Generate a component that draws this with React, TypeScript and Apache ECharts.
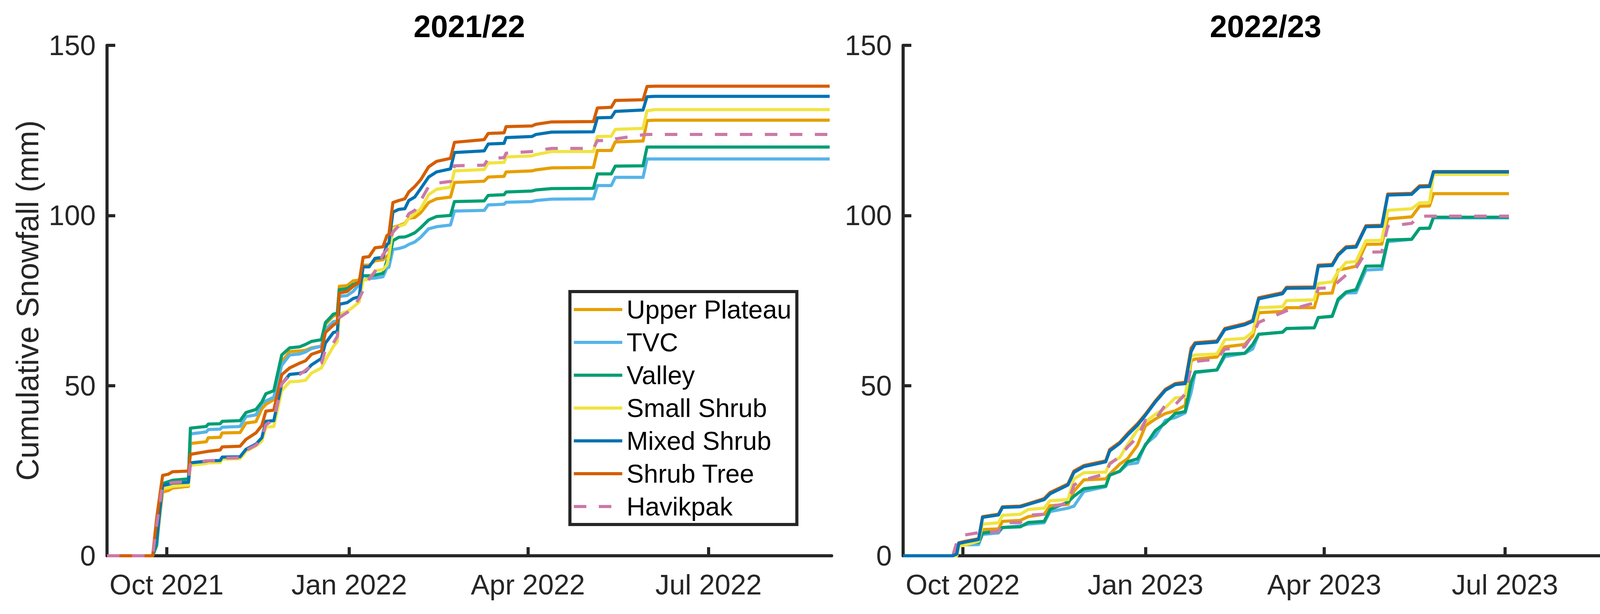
import React, { useEffect, useRef } from 'react';
import * as echarts from 'echarts';

const SITE_NAMES = ['Upper Plateau', 'TVC', 'Valley', 'Small Shrub', 'Mixed Shrub', 'Shrub Tree', 'Havikpak'];
const SITE_COLORS = ['#E69F00', '#56B4E9', '#009E73', '#F0E442', '#0072B2', '#D55E00', '#CC79A7'];

const seasonTitles = ['2021/22', '2022/23'];
const seasonRanges = [
  ['2021-09-01', '2022-09-01'],
  ['2022-09-01', '2023-09-01'],
];
const xTickDates2122 = ['2021-10-01', '2022-01-01', '2022-04-01', '2022-07-01'];
const xTickLabels2122 = ['Oct 2021', 'Jan 2022', 'Apr 2022', 'Jul 2022'];
const xTickDates2223 = ['2022-10-01', '2023-01-01', '2023-04-01', '2023-07-01'];
const xTickLabels2223 = ['Oct 2022', 'Jan 2023', 'Apr 2023', 'Jul 2023'];

// ---------- 2021/22 ----------
const dates2122 = [
  '2021-09-01', '2021-09-24', '2021-09-26', '2021-09-29', '2021-10-02', '2021-10-04', '2021-10-12', '2021-10-13', '2021-10-21', '2021-10-22',
  '2021-10-28', '2021-10-29', '2021-11-07', '2021-11-10', '2021-11-15', '2021-11-18', '2021-11-20', '2021-11-24', '2021-11-28', '2021-12-02',
  '2021-12-07', '2021-12-10', '2021-12-13', '2021-12-18', '2021-12-20', '2021-12-24', '2021-12-26', '2021-12-27', '2021-12-31', '2022-01-03',
  '2022-01-06', '2022-01-08', '2022-01-11', '2022-01-14', '2022-01-18', '2022-01-20', '2022-01-21', '2022-01-23', '2022-01-26', '2022-01-29',
  '2022-01-31', '2022-02-03', '2022-02-06', '2022-02-10', '2022-02-14', '2022-02-21', '2022-02-23', '2022-03-10', '2022-03-12', '2022-03-20',
  '2022-03-21', '2022-04-03', '2022-04-05', '2022-04-13', '2022-05-04', '2022-05-06', '2022-05-13', '2022-05-15', '2022-05-29', '2022-05-31',
  '2022-06-04', '2022-08-31',
];
const upperPlateau2122 = [
  0, 0, 4, 18.7, 19.2, 19.9, 20.4, 33.0, 33.5, 34.7,
  34.8, 36.1, 36.2, 39.0, 39.4, 43.2, 44.5, 45.9, 57.0, 60.0,
  60.2, 60.4, 61.1, 61.6, 68.0, 70.5, 70.8, 79.2, 79.4, 80.8,
  81.0, 85.4, 85.4, 86.7, 87.0, 88.0, 88.5, 96.5, 97.0, 97.7,
  99.2, 99.4, 100.8, 103.8, 104.9, 105.4, 109.7, 110.1, 111.3, 111.5,
  112.8, 113.1, 113.4, 114.0, 114.1, 119.1, 119.1, 121.6, 121.9, 127.9,
  128.0, 128.0,
];
const tvc2122 = [
  0, 0, 4, 20.8, 21.0, 21.3, 21.6, 35.8, 36.4, 37.1,
  37.2, 37.8, 38.0, 40.9, 41.4, 44.7, 45.5, 46.6, 56.0, 59.0,
  59.3, 59.9, 60.9, 61.6, 66.5, 68.8, 69.0, 76.2, 76.5, 77.7,
  79.7, 81.0, 81.5, 81.6, 82.0, 84.6, 84.8, 90.0, 90.3, 90.8,
  91.5, 92.2, 93.6, 96.1, 96.7, 97.2, 101.3, 101.5, 103.1, 103.3,
  103.9, 104.1, 104.4, 104.8, 104.9, 108.8, 108.8, 111.2, 111.2, 116.6,
  116.6, 116.6,
];
const valley2122 = [
  0, 0, 3, 21.2, 21.8, 22.2, 22.6, 37.5, 38.0, 38.7,
  38.8, 39.5, 39.7, 42.1, 43.0, 45.2, 47.6, 48.5, 59.0, 61.1,
  61.4, 62.1, 63.0, 63.5, 68.5, 71.0, 71.3, 78.2, 78.5, 79.7,
  80.3, 82.3, 82.3, 82.5, 83.0, 86.7, 87.0, 92.6, 93.6, 93.7,
  94.1, 94.9, 96.4, 98.7, 99.7, 100.0, 104.1, 104.3, 105.9, 106.1,
  106.9, 107.2, 107.5, 107.9, 108.0, 112.2, 112.2, 114.5, 114.6, 120.1,
  120.1, 120.1,
];
const smallShrub2122 = [
  0, 0, 5, 19.7, 20.0, 20.4, 20.8, 26.6, 27.1, 27.3,
  27.4, 28.4, 28.5, 30.7, 32.3, 33.7, 37.8, 38.0, 48.5, 51.1,
  51.3, 51.6, 53.7, 55.2, 57.5, 61.5, 63.0, 71.0, 71.8, 73.1,
  74.6, 81.0, 81.3, 83.8, 84.1, 85.5, 88.0, 96.1, 96.8, 97.4,
  99.2, 100.5, 102.0, 106.1, 107.7, 108.3, 113.1, 113.5, 115.4, 115.6,
  117.2, 117.5, 117.9, 118.8, 118.8, 123.2, 123.3, 125.3, 125.6, 130.8,
  131.1, 131.1,
];
const mixedShrub2122 = [
  0, 0, 5, 20.6, 21.0, 21.4, 21.6, 27.3, 27.8, 27.9,
  28.0, 29.0, 29.1, 31.3, 32.8, 34.7, 39.5, 39.7, 50.5, 53.3,
  53.6, 54.2, 56.1, 58.0, 62.5, 65.6, 65.9, 73.9, 74.4, 75.6,
  76.1, 84.9, 84.9, 87.4, 87.7, 91.5, 91.9, 101.0, 101.8, 102.0,
  104.4, 105.4, 107.9, 111.3, 112.8, 113.7, 118.5, 119.0, 121.0, 121.2,
  122.9, 123.2, 123.8, 124.5, 124.6, 128.7, 128.8, 130.6, 131.0, 134.9,
  135.0, 135.0,
];
const shrubTree2122 = [
  0, 0, 11, 23.6, 24.0, 24.7, 24.9, 29.8, 30.6, 30.7,
  31.1, 32.0, 32.2, 34.2, 36.1, 38.3, 42.5, 42.8, 53.2, 55.2,
  56.6, 57.3, 59.2, 60.2, 65.6, 67.8, 68.5, 77.2, 77.7, 79.2,
  80.3, 87.7, 87.9, 90.5, 90.8, 94.1, 94.5, 103.8, 104.4, 104.9,
  106.9, 108.5, 110.5, 114.3, 115.9, 116.8, 121.5, 122.3, 124.1, 124.3,
  126.1, 126.3, 126.8, 127.5, 127.6, 131.6, 131.8, 133.8, 134.0, 137.9,
  138.0, 138.0,
];
const havikpak2122 = [
  0, 0, 9, 21.1, 21.3, 21.5, 21.8, 27.3, 27.9, 27.9,
  28.0, 28.7, 28.8, 31.0, 32.5, 34.5, 38.5, 40.0, 50.5, 53.0,
  53.3, 54.5, 56.0, 56.6, 60.5, 62.5, 64.5, 70.0, 71.5, 73.1,
  75.6, 78.0, 81.3, 83.5, 88.5, 90.0, 92.0, 95.1, 97.0, 98.2,
  100.5, 101.5, 104.4, 108.5, 109.5, 110.0, 114.6, 114.8, 116.7, 117.0,
  118.3, 118.8, 119.1, 119.7, 119.7, 122.0, 122.0, 122.5, 123.7, 123.8,
  123.8, 123.8,
];

// ---------- 2022/23 ----------
const dates2223 = [
  '2022-09-01', '2022-09-26', '2022-09-28', '2022-09-29', '2022-10-02', '2022-10-09', '2022-10-11', '2022-10-19', '2022-10-21', '2022-10-30',
  '2022-11-03', '2022-11-11', '2022-11-14', '2022-11-23', '2022-11-26', '2022-12-01', '2022-12-12', '2022-12-14', '2022-12-19', '2022-12-23',
  '2022-12-28', '2023-01-01', '2023-01-06', '2023-01-11', '2023-01-16', '2023-01-21', '2023-01-24', '2023-01-26', '2023-02-06', '2023-02-10',
  '2023-02-20', '2023-02-24', '2023-02-27', '2023-03-11', '2023-03-13', '2023-03-27', '2023-03-29', '2023-04-05', '2023-04-08', '2023-04-12',
  '2023-04-17', '2023-04-22', '2023-04-30', '2023-05-03', '2023-05-15', '2023-05-19', '2023-05-24', '2023-05-26', '2023-07-03',
];
const upperPlateau2223 = [
  0, 0, 0, 3.2, 3.3, 4.3, 7.7, 7.9, 10.1, 10.4,
  11.5, 12.2, 14.7, 15.1, 19.0, 22.3, 22.6, 24.0, 26.9, 28.5,
  32.5, 38.2, 40.2, 41.8, 42.6, 44.2, 57.3, 57.8, 58.4, 61.4,
  62.1, 64.6, 71.4, 71.8, 72.9, 72.9, 77.0, 77.2, 84.0, 84.4,
  85.1, 91.5, 91.6, 99.0, 99.6, 102.7, 102.8, 106.4, 106.4,
];
const tvc2223 = [
  0, 0, 0.5, 3.2, 3.2, 3.3, 6.3, 6.7, 8.3, 8.8,
  9.3, 9.7, 13.0, 14.0, 14.6, 18.9, 20.3, 23.7, 24.8, 26.9,
  27.3, 32.8, 35.2, 39.8, 40.6, 42.0, 48.0, 53.8, 54.6, 58.5,
  59.5, 60.8, 65.1, 65.7, 66.8, 67.0, 70.0, 70.3, 75.0, 77.2,
  77.3, 84.0, 84.2, 92.3, 93.0, 96.2, 96.2, 99.3, 99.3,
];
const valley2223 = [
  0, 0, 1.0, 3.6, 3.7, 4.0, 6.7, 7.2, 8.3, 8.5,
  9.8, 10.1, 13.6, 15.8, 17.5, 19.7, 20.5, 23.7, 24.8, 27.6,
  28.5, 32.5, 36.8, 39.0, 41.8, 42.4, 51.0, 54.0, 54.6, 59.2,
  59.5, 62.1, 65.1, 65.7, 66.8, 67.0, 70.0, 70.4, 75.4, 77.5,
  78.2, 85.1, 85.2, 92.8, 93.0, 96.2, 96.3, 99.5, 99.5,
];
const smallShrub2223 = [
  0, 0, 0, 2.9, 3.1, 4.3, 9.3, 9.7, 11.9, 12.2,
  13.6, 14.0, 16.2, 16.5, 22.6, 24.4, 24.6, 27.3, 28.8, 32.7,
  37.0, 39.3, 41.6, 43.5, 46.4, 46.7, 58.6, 59.0, 59.3, 63.5,
  63.9, 65.7, 72.9, 73.2, 75.0, 75.2, 80.0, 80.5, 83.5, 86.2,
  86.5, 92.6, 92.7, 101.5, 102.0, 103.7, 103.8, 112.1, 112.1,
];
const mixedShrub2223 = [
  0, 0, 0.5, 3.6, 4.0, 4.8, 11.3, 12.0, 14.2, 14.4,
  15.1, 16.5, 18.2, 20.8, 24.5, 26.2, 27.6, 30.8, 33.0, 35.5,
  38.4, 41.3, 45.2, 48.6, 50.3, 50.6, 60.0, 62.3, 62.8, 66.5,
  67.9, 68.9, 75.5, 77.0, 78.6, 78.7, 85.1, 85.3, 88.3, 90.5,
  90.7, 96.7, 96.8, 106.0, 106.2, 108.4, 108.5, 112.8, 112.8,
];
const shrubTree2223 = [
  0, 0, 1.5, 3.8, 4.2, 5.0, 11.5, 12.2, 14.4, 14.6,
  15.3, 16.8, 18.6, 21.1, 24.9, 26.5, 27.9, 31.2, 33.3, 35.9,
  38.8, 41.6, 45.5, 48.9, 50.6, 51.0, 61.0, 62.6, 63.1, 66.8,
  68.2, 69.2, 75.8, 77.3, 78.9, 79.0, 85.4, 85.6, 88.6, 90.8,
  91.0, 97.0, 97.1, 106.3, 106.5, 108.7, 108.8, 112.9, 112.9,
];
const havikpak2223 = [
  0, 0, 3.9, 4.5, 6.1, 6.8, 6.8, 7.2, 9.7, 9.8,
  11.9, 12.2, 14.4, 15.4, 20.8, 22.3, 24.1, 27.0, 29.1, 32.0,
  34.8, 39.8, 40.0, 44.3, 44.4, 47.5, 55.6, 57.1, 57.8, 60.7,
  61.4, 65.0, 68.6, 71.5, 72.0, 74.3, 78.6, 78.8, 80.5, 82.5,
  84.5, 89.2, 89.3, 96.8, 97.7, 99.8, 99.8, 99.8, 99.8,
];

const FONT = '"Liberation Sans", Arial, Helvetica, sans-serif';
const AXIS_COLOR = '#262626';

function ts(s: string): number {
  const [y, m, d] = s.split('-').map(Number);
  return new Date(y, m - 1, d).getTime();
}

const SOLID_ICON = 'path://M0,0H124V8H0Z M130,0L130,8';
const DASH_ICON = 'path://M0,0H32V8H0Z M64,0H96V8H64Z M130,0L130,8';

function buildOption() {
  const seasons = [
    { dates: dates2122, values: [upperPlateau2122, tvc2122, valley2122, smallShrub2122, mixedShrub2122, shrubTree2122, havikpak2122], ticks: xTickDates2122, labels: xTickLabels2122 },
    { dates: dates2223, values: [upperPlateau2223, tvc2223, valley2223, smallShrub2223, mixedShrub2223, shrubTree2223, havikpak2223], ticks: xTickDates2223, labels: xTickLabels2223 },
  ];
  const grids = [
    { left: 274, top: 116, width: 1855, height: 1306 },
    { left: 2312, top: 116, width: 1856, height: 1306 },
  ];

  const xAxes = seasons.map((s, i) => {
    const tickTs = s.ticks.map(ts);
    return {
      type: 'value',
      gridIndex: i,
      min: ts(seasonRanges[i][0]),
      max: ts(seasonRanges[i][1]),
      axisLine: { show: true, lineStyle: { color: AXIS_COLOR, width: 8 } },
      axisTick: { show: true, inside: true, length: 22, lineStyle: { color: AXIS_COLOR, width: 8 }, customValues: tickTs },
      axisLabel: {
        show: true,
        customValues: tickTs,
        formatter: (v: number) => {
          const idx = tickTs.findIndex((t) => Math.abs(t - v) < 43200000);
          return idx >= 0 ? s.labels[idx] : '';
        },
        margin: 38,
        fontSize: 72,
        color: AXIS_COLOR,
        fontFamily: FONT,
      },
      splitLine: { show: false },
    };
  });

  const yAxes = seasons.map((s, i) => ({
    type: 'value',
    gridIndex: i,
    min: 0,
    max: 150,
    interval: 50,
    axisLine: { show: true, lineStyle: { color: AXIS_COLOR, width: 8 } },
    axisTick: { show: true, inside: true, length: 21, lineStyle: { color: AXIS_COLOR, width: 8 } },
    axisLabel: { margin: 29, fontSize: 72, color: AXIS_COLOR, fontFamily: FONT, padding: [8, 0, 0, 0] },
    splitLine: { show: false },
    name: i === 0 ? 'Cumulative Snowfall (mm)' : '',
    nameLocation: 'middle',
    nameGap: 164,
    nameRotate: 90,
    nameTextStyle: { fontSize: 79, color: AXIS_COLOR, fontFamily: FONT },
  }));

  const series: any[] = [];
  seasons.forEach((s, si) => {
    SITE_NAMES.forEach((name, k) => {
      const vals = s.values[k];
      series.push({
        type: 'line',
        name,
        xAxisIndex: si,
        yAxisIndex: si,
        data: s.dates.map((d, j) => [ts(d), vals[j]]),
        symbol: 'none',
        showSymbol: false,
        silent: true,
        z: si === 1 && name === 'Mixed Shrub' ? 3 : 2,
        itemStyle: { color: SITE_COLORS[k] },
        lineStyle: {
          color: SITE_COLORS[k],
          width: 8,
          type: name === 'Havikpak' ? [32, 32] : 'solid',
          cap: 'butt',
          join: 'round',
        },
      });
    });
  });

  return {
    animation: false,
    backgroundColor: '#ffffff',
    grid: grids,
    xAxis: xAxes,
    yAxis: yAxes,
    legend: {
      show: true,
      orient: 'vertical',
      left: 1459,
      top: 746,
      padding: [13, 14, 13, 10],
      borderColor: AXIS_COLOR,
      borderWidth: 8,
      backgroundColor: '#ffffff',
      itemWidth: 130,
      itemHeight: 8,
      itemGap: 18,
      selectedMode: false,
      textStyle: { fontSize: 66, color: '#000000', fontFamily: FONT, lineHeight: 66 },
      itemStyle: { borderWidth: 0 },
      data: SITE_NAMES.map((n) => ({ name: n, icon: n === 'Havikpak' ? DASH_ICON : SOLID_ICON })),
    },
    graphic: seasonTitles.map((t, i) => ({
      type: 'text',
      x: grids[i].left + grids[i].width / 2,
      y: 28,
      style: {
        text: t,
        fill: '#000000',
        fontSize: 79,
        fontWeight: 'bold',
        fontFamily: FONT,
        align: 'center',
        verticalAlign: 'top',
      },
    })),
    series,
  };
}

export default function App() {
  const ref = useRef<HTMLDivElement>(null);
  useEffect(() => {
    if (!ref.current) return;
    const chart = echarts.init(ref.current, null, { renderer: 'svg' });
    chart.setOption(buildOption() as any);
    return () => {
      chart.dispose();
    };
  }, []);
  return (
    <div
      ref={ref}
      style={{ position: 'absolute', left: 0, top: 0, width: 4205, height: 1571, background: '#ffffff' }}
    />
  );
}
